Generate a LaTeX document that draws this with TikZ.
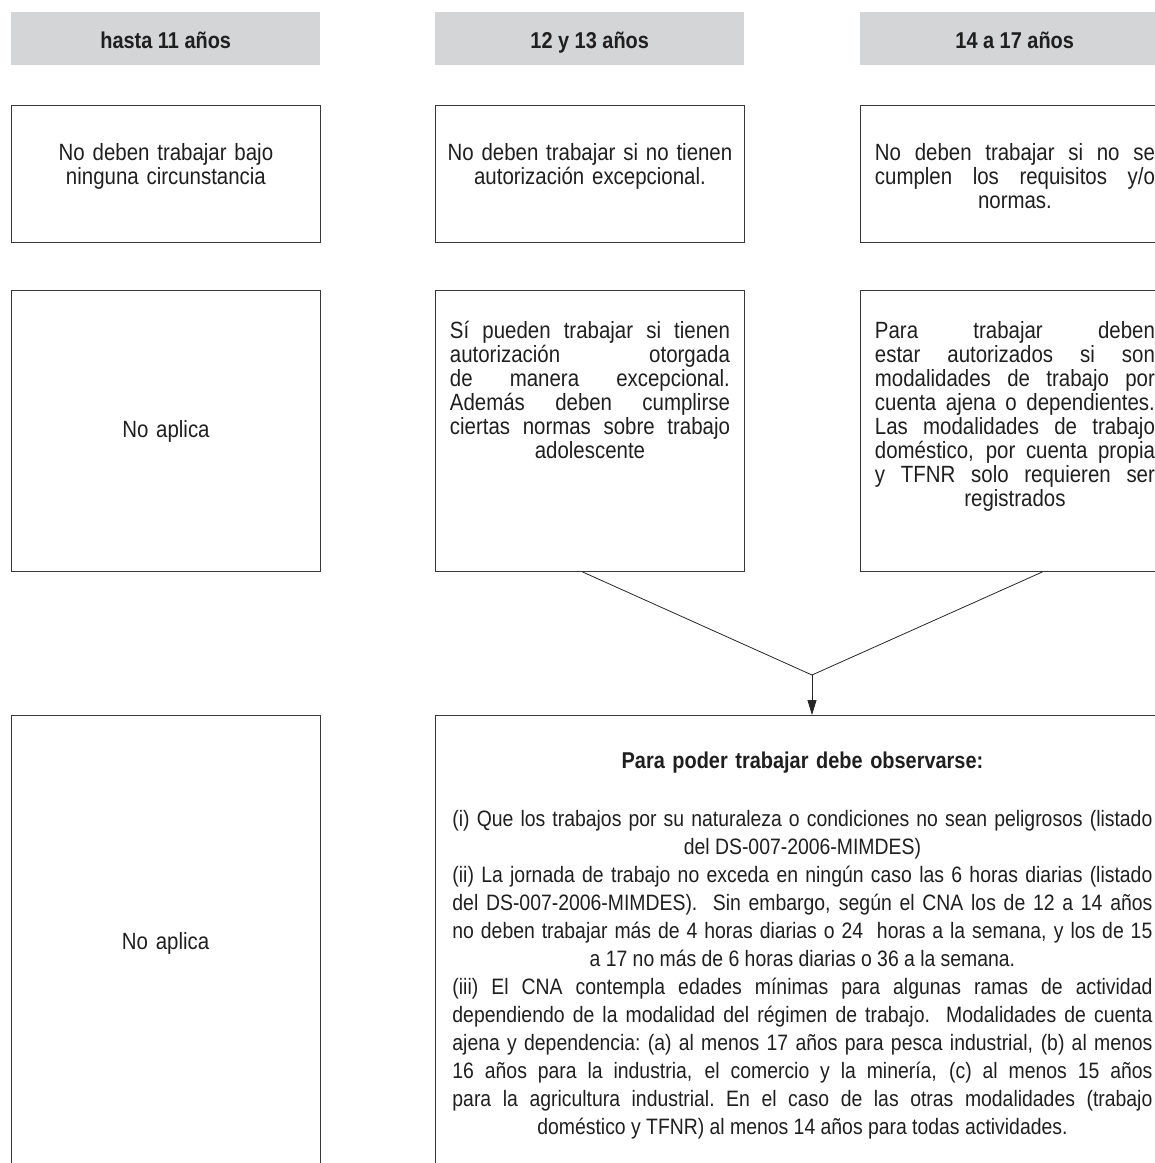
\documentclass[tikz,border=0pt]{standalone}
\usepackage{fontspec}
\setmainfont{Liberation Sans}[FakeStretch=0.87]
\usetikzlibrary{positioning, arrows.meta}
\definecolor{header_gray}{RGB}{212,213,215}
\colorlet{line_gray}{black!78}
\colorlet{text_dark}{black!88}
% justified lines, last line centred
\newcommand{\lastcentered}{\parindent=0pt\leftskip=0pt plus 1fil\rightskip=0pt plus -1fil\parfillskip=0pt plus 2fil\spaceskip=0.24em plus 3em minus 0.04em\xspaceskip=\spaceskip\tolerance=10000\hyphenpenalty=10000}

\begin{document}
\begin{tikzpicture}[x=1pt, y=-1pt,
                    header/.style={fill=header_gray, minimum width=309pt, minimum height=53pt, inner sep=0pt, text height=22pt, text depth=3pt, anchor=north west, text=text_dark, font=\bfseries\fontsize{22.9}{26}\selectfont},
                    box/.style={draw=line_gray, line width=0.9pt, minimum width=309pt, inner sep=0pt, anchor=north west},
                    boxtext/.style={text width=280pt, inner sep=0pt, text=text_dark, font=\fontsize{23.5}{24}\selectfont},
                    bigtext/.style={text width=700pt, inner sep=0pt, text=text_dark, font=\fontsize{22.3}{28}\selectfont},
                    connection/.style={draw=black!85, line width=0.8pt}]

  \useasboundingbox (0,0) rectangle (1155,1163);
  \clip (0,0) rectangle (1155,1163);

  % Age headers
  \node[header] (h1) at (11,12) {hasta 11 años};
  \node[header] (h2) at (435,12) {12 y 13 años};
  \node[header] (h3) at (860,12) {14 a 17 años};

  % First row
  \node[box, minimum height=137pt] (r1a) at (11,105) {};
  \node[box, minimum height=137pt] (r1b) at (435,105) {};
  \node[box, minimum height=137pt] (r1c) at (860,105) {};
  \node[boxtext, align=center, below=38pt of r1a.north] (t1a) {No deben trabajar bajo\\ninguna circunstancia};
  \node[boxtext, text width=300pt, align=center, below=38pt of r1b.north] (t1b) {No deben trabajar si no tienen\\autorización excepcional.};
  \node[boxtext, below=38pt of r1c.north] (t1c) {\lastcentered No deben trabajar si no se\linebreak cumplen los requisitos y/o\linebreak normas.\par};

  % Second row
  \node[box, minimum height=281pt] (r2a) at (11,290) {};
  \node[box, minimum height=281pt] (r2b) at (435,290) {};
  \node[box, minimum height=281pt] (r2c) at (860,290) {};
  \node[boxtext, align=center] (t2a) at (r2a.center) {No aplica};
  \node[boxtext, below=31pt of r2b.north] (t2b) {\lastcentered Sí pueden trabajar si tienen\linebreak autorización otorgada\linebreak de manera excepcional.\linebreak Además deben cumplirse\linebreak ciertas normas sobre trabajo\linebreak adolescente\par};
  \node[boxtext, below=31pt of r2c.north] (t2c) {\lastcentered Para trabajar deben\linebreak estar autorizados si son\linebreak modalidades de trabajo por\linebreak cuenta ajena o dependientes.\linebreak Las modalidades de trabajo\linebreak doméstico, por cuenta propia\linebreak y TFNR solo requieren ser\linebreak registrados\par};

  % Third row
  \node[box, minimum height=500pt] (r3a) at (11,715) {};
  \node[box, minimum width=734pt, minimum height=500pt] (r3b) at (435,715) {};
  \node[boxtext, align=center] (t3a) at (165.5,943) {No aplica};
  \node[bigtext, align=center, font=\bfseries\fontsize{22.9}{28}\selectfont, below=37pt of r3b.north] (title) {Para poder trabajar debe observarse:};
  \node[bigtext, below=95pt of r3b.north] (t3b) {\lastcentered
    (i) Que los trabajos por su naturaleza o condiciones no sean peligrosos (listado\linebreak del DS-007-2006-MIMDES)\par
    (ii) La jornada de trabajo no exceda en ningún caso las 6 horas diarias (listado\linebreak del DS-007-2006-MIMDES).\ \ Sin embargo, según el CNA los de 12 a 14 años\linebreak no deben trabajar más de 4 horas diarias o 24\ \ horas a la semana, y los de 15\linebreak a 17 no más de 6 horas diarias o 36 a la semana.\par
    (iii) El CNA contempla edades mínimas para algunas ramas de actividad\linebreak dependiendo de la modalidad del régimen de trabajo.\ \ Modalidades de cuenta\linebreak ajena y dependencia: (a) al menos 17 años para pesca industrial, (b) al menos\linebreak 16 años para la industria, el comercio y la minería, (c) al menos 15 años\linebreak para la agricultura industrial. En el caso de las otras modalidades (trabajo\linebreak doméstico y TFNR) al menos 14 años para todas actividades.\par};

  % Connections
  \coordinate (meet) at (812,675);
  \draw[connection] ([xshift=-7.5pt]r2b.south) -- (meet);
  \draw[connection] ([xshift=27.5pt]r2c.south) -- (meet);
  \draw[connection, -{Triangle[length=15pt, width=9pt]}] (meet) -- (meet |- r3b.north);

\end{tikzpicture}
\end{document}
